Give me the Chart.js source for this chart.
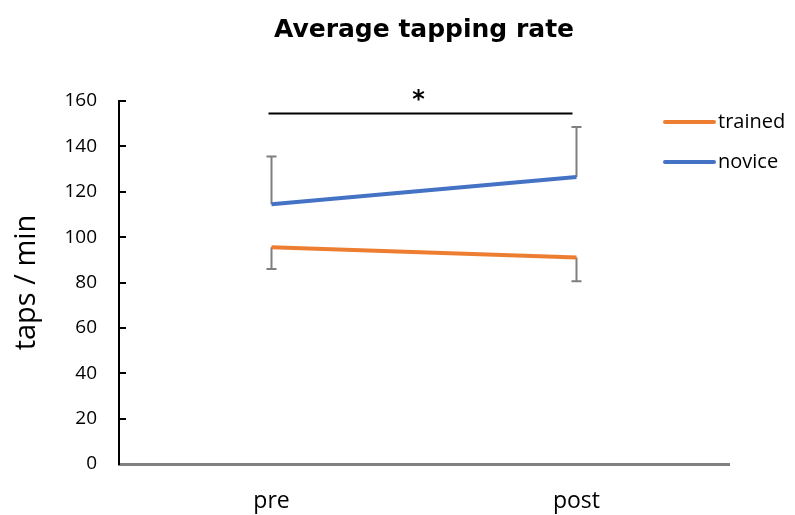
<!DOCTYPE html>
<html>
<head>
<meta charset="utf-8">
<script src="https://cdn.jsdelivr.net/npm/chart.js@4.4.0/dist/chart.umd.min.js"></script>
<style>
  body { margin: 0; background: #fff; }
  #wrap { width: 795px; height: 515px; }
</style>
</head>
<body>
<div id="wrap"><canvas id="myChart" width="795" height="515"></canvas></div>
<script>
// data
var labels = ['pre', 'post'];
var trained = [95.5, 91];
var novice = [114.5, 126.5];
var trainedErrDown = [9.5, 10.5];
var noviceErrUp = [21, 22];
var yTicks = [0, 20, 40, 60, 80, 100, 120, 140, 160];
var sigValue = 154.5;
var sigText = '*';

var orange = '#ED7D31';
var blue = '#4472C4';

// error bars, drawn under the lines
var errorBars = {
  id: 'errorBars',
  beforeDatasetsDraw: function(chart) {
    var ctx = chart.ctx;
    var x = chart.scales.x, y = chart.scales.y;
    ctx.save();
    ctx.strokeStyle = '#7F7F7F';
    ctx.lineWidth = 2;
    chart.data.datasets.forEach(function(ds) {
      ds.data.forEach(function(v, i) {
        var px = x.getPixelForValue(i);
        var up = ds.errUp ? ds.errUp[i] : 0;
        var down = ds.errDown ? ds.errDown[i] : 0;
        var y1 = y.getPixelForValue(v + up);
        var y2 = y.getPixelForValue(v - down);
        ctx.beginPath();
        ctx.moveTo(px, y1); ctx.lineTo(px, y2);
        if (up) { ctx.moveTo(px - 5, y1); ctx.lineTo(px + 5, y1); }
        if (down) { ctx.moveTo(px - 5, y2); ctx.lineTo(px + 5, y2); }
        ctx.stroke();
      });
    });
    ctx.restore();
  },
  afterDatasetsDraw: function(chart) {
    // significance bar + custom legend
    var ctx = chart.ctx;
    var x = chart.scales.x, y = chart.scales.y;
    var x1 = x.getPixelForValue(0) - 3, x2 = x.getPixelForValue(1) - 4;
    var py = y.getPixelForValue(sigValue);
    ctx.save();
    ctx.strokeStyle = '#000';
    ctx.lineWidth = 2;
    ctx.beginPath();
    ctx.moveTo(x1, py); ctx.lineTo(x2, py);
    ctx.stroke();
    ctx.fillStyle = '#000';
    ctx.font = 'bold 24px "DejaVu Sans"';
    ctx.textAlign = 'center';
    ctx.textBaseline = 'middle';
    ctx.fillText(sigText, (x1 + x2) / 2 - 2, py - 13);

    ctx.font = '20px "Open Sans"';
    ctx.textAlign = 'left';
    chart.data.datasets.forEach(function(ds, i) {
      var ly = 122 + i * 40;
      ctx.strokeStyle = ds.borderColor;
      ctx.lineWidth = 4;
      ctx.lineCap = 'round';
      ctx.beginPath();
      ctx.moveTo(665, ly); ctx.lineTo(714, ly);
      ctx.stroke();
      ctx.fillStyle = '#000';
      ctx.fillText(ds.label, 718, ly);
    });
    ctx.restore();
  }
};

const data = {
  labels: labels,
  datasets: [{
    label: 'trained',
    data: trained,
    errDown: trainedErrDown,
    borderColor: orange,
    backgroundColor: orange,
    borderWidth: 4,
    pointRadius: 0
  }, {
    label: 'novice',
    data: novice,
    errUp: noviceErrUp,
    borderColor: blue,
    backgroundColor: blue,
    borderWidth: 4,
    pointRadius: 0
  }]
};

const config = {
  type: 'line',
  data: data,
  plugins: [errorBars],
  options: {
    responsive: false,
    animation: false,
    layout: { padding: { left: 0, right: 66, top: 0, bottom: 0 } },
    plugins: {
      legend: { display: false },
      tooltip: { enabled: false },
      title: {
        display: true,
        fullSize: false,
        text: 'Average tapping rate',
        color: '#000',
        font: { family: '"DejaVu Sans"', size: 25, weight: 'bold' },
        padding: { top: 15, bottom: 56 }
      }
    },
    scales: {
      x: {
        offset: true,
        grid: { display: true, drawOnChartArea: false, drawTicks: false },
        border: { color: '#808080', width: 3 },
        ticks: { color: '#000', font: { family: '"Open Sans"', size: 23 }, padding: 24 },
        afterFit: function(s) { s.height = 51; }
      },
      y: {
        min: 0,
        max: 160,
        afterBuildTicks: function(s) { s.ticks = yTicks.map(function(v) { return { value: v }; }); },
        grid: { drawOnChartArea: false, color: '#000', lineWidth: 2, tickLength: -7 },
        border: { color: '#000', width: 2 },
        ticks: { color: '#000', font: { family: '"Open Sans"', size: 19 }, padding: 29 },
        title: {
          display: true,
          text: 'taps / min',
          color: '#000',
          font: { family: '"Open Sans"', size: 29 },
          padding: { top: 9, bottom: 0 }
        },
        afterFit: function(s) { s.width = 119; }
      }
    }
  }
};

const myChart = new Chart(document.getElementById('myChart'), config);
</script>
</body>
</html>
